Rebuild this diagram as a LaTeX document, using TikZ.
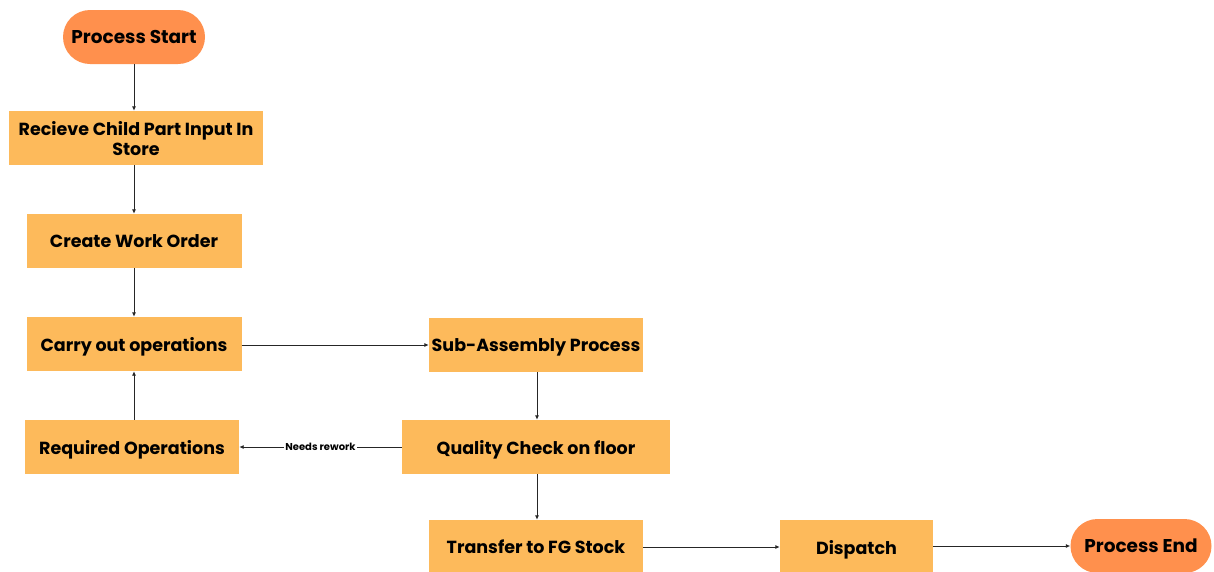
\documentclass[tikz,border=0pt]{standalone}
\usepackage{fontspec}
\setmainfont{Poppins}
\usetikzlibrary{arrows.meta}
\definecolor{boxfill}{HTML}{FDBA5B}
\definecolor{termfill}{HTML}{FF904D}
\tikzset{
  stepbox/.style={rectangle, fill=boxfill, inner sep=0pt, minimum height=54pt,
    align=center, text depth=0pt, font=\fontsize{17.5}{20}\selectfont\bfseries},
  terminal/.style={rectangle, rounded corners=27pt, fill=termfill, inner sep=0pt,
    minimum width=142pt, minimum height=54pt, text depth=0pt,
    font=\fontsize{18.5}{20}\selectfont\bfseries},
  flow/.style={draw=black!85, line width=0.9pt, -{Latex[length=4.5pt,width=4pt]}},
}
\begin{document}
\begin{tikzpicture}[x=1pt,y=-1pt]
\clip (0,0) rectangle (1214,571);
\fill[white] (0,0) rectangle (1214,571);
% terminals
\node[terminal] (start) at (134,37) {Process Start};
\node[terminal, minimum width=141pt] (end) at (1141,546) {Process End};
% process steps, left column
\node[stepbox, minimum width=254pt] (recv) at (136,138) {Recieve Child Part Input In\\Store};
\node[stepbox, minimum width=215pt] (wo) at (134,241) {Create Work Order};
\node[stepbox, minimum width=215pt] (carry) at (134,344) {Carry out operations};
\node[stepbox, minimum width=214pt] (req) at (132,447) {Required Operations};
% middle column
\node[stepbox, minimum width=214pt] (sub) at (536,345) {Sub-Assembly Process};
\node[stepbox, minimum width=268pt] (qc) at (536,447) {Quality Check on floor};
\node[stepbox, minimum width=214pt] (fg) at (536,547) {Transfer to FG Stock};
\node[stepbox, minimum width=153pt] (disp) at (856.5,547) {Dispatch};
% connectors
\draw[flow] (start) -- (recv.north -| start);
\draw[flow] (recv.south -| wo) -- (wo);
\draw[flow] (wo) -- (carry);
\draw[flow] (req.north -| carry) -- (carry.south);
\draw[flow] (carry.east |- 0,345) -- (sub.west |- 0,345);
\draw[flow] (sub.south -| 537,0) -- (qc.north -| 537,0);
\draw[flow] (qc) -- node[fill=white, inner sep=1pt, font=\fontsize{10}{12}\selectfont\bfseries] {Needs rework} (req);
\draw[flow] (qc.south -| 537,0) -- (fg.north -| 537,0);
\draw[flow] (fg) -- (disp);
\draw[flow] (disp.east |- end) -- (end);
\end{tikzpicture}
\end{document}
